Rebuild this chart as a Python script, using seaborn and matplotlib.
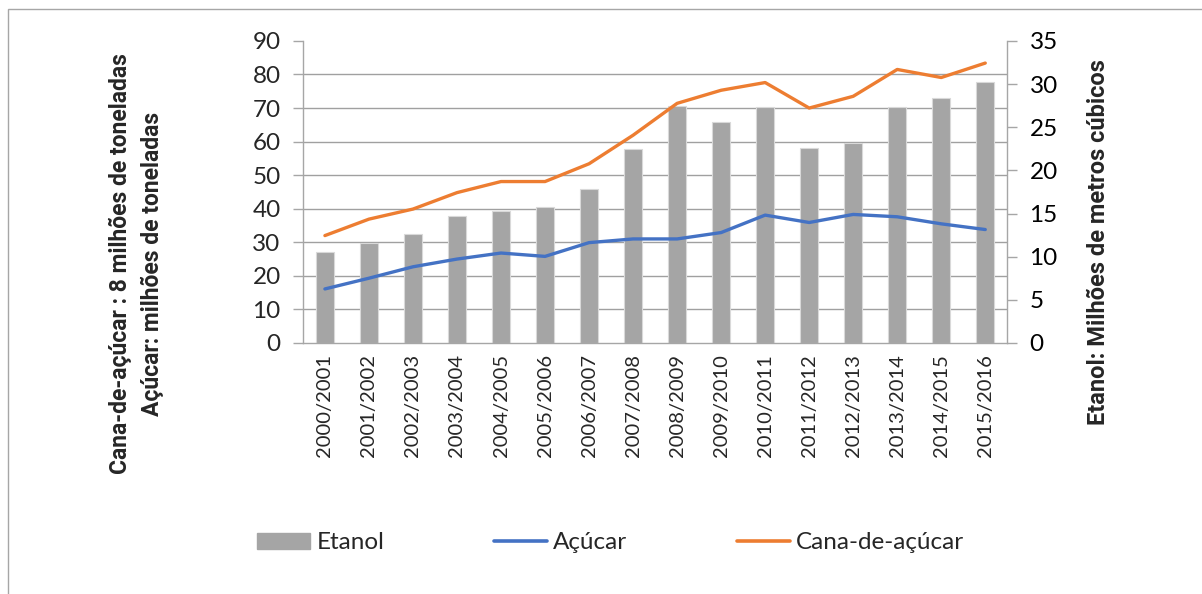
import numpy as np
import pandas as pd
import matplotlib
matplotlib.use('Agg')
import matplotlib.pyplot as plt
import matplotlib.patches as mpatches
from matplotlib.lines import Line2D
import seaborn as sns

sns.set_theme(style='white')
plt.rcParams['font.family'] = ['Lato', 'DejaVu Sans']

# data
safras = ['2000/2001', '2001/2002', '2002/2003', '2003/2004', '2004/2005', '2005/2006',
          '2006/2007', '2007/2008', '2008/2009', '2009/2010', '2010/2011', '2011/2012',
          '2012/2013', '2013/2014', '2014/2015', '2015/2016']
etanol = [10.5, 11.6, 12.6, 14.7, 15.3, 15.8, 17.8, 22.5, 27.5, 25.6, 27.3, 22.6,
          23.2, 27.4, 28.4, 30.2]
acucar = [16.1, 19.3, 22.7, 25.0, 26.8, 25.8, 29.9, 31.0, 31.0, 32.9, 38.1, 35.9,
          38.3, 37.6, 35.5, 33.8]
cana = [32.0, 36.9, 39.9, 44.8, 48.1, 48.1, 53.4, 61.9, 71.4, 75.3, 77.6, 70.0,
        73.5, 81.5, 79.1, 83.4]

df = pd.DataFrame({'safra': safras, 'Etanol': etanol, 'Açúcar': acucar,
                   'Cana-de-açúcar': cana})

c_bar = '#a5a5a5'
c_blue = '#4472c4'
c_orange = '#ed7d31'
c_axis = '#a6a6a6'
c_grid = '#a0a0a0'

fig = plt.figure(figsize=(12.02, 5.94), dpi=100)
ax = fig.add_axes([0.252, 0.4226, 0.586, 0.5085])

# bars on the secondary (right) scale
sns.barplot(data=df, x='safra', y='Etanol', color=c_bar, width=0.4,
            edgecolor='#d9d9d9', linewidth=0.8, ax=ax, zorder=2)
ax.set_ylim(0, 35)
ax.set_xlim(-0.5, len(safras) - 0.5)

# lines on the primary (left) scale
axl = ax.twinx()
sns.lineplot(data=df, x='safra', y='Açúcar', color=c_blue, linewidth=2.4,
             sort=False, ax=axl)
sns.lineplot(data=df, x='safra', y='Cana-de-açúcar', color=c_orange, linewidth=2.4,
             sort=False, ax=axl)
axl.set_ylim(0, 90)
axl.set_xlim(-0.5, len(safras) - 0.5)

# swap sides after twinx (twinx resets them)
ax.yaxis.tick_right()
axl.yaxis.tick_left()

ax.set_yticks(np.arange(0, 36, 5))
# gridlines of the left scale, behind the bars
ax.set_yticks(np.arange(0, 91, 10) * 35 / 90, minor=True)
ax.grid(True, which='minor', axis='y', color=c_grid, linewidth=1.0, zorder=0)
ax.grid(False, which='major')
ax.set_axisbelow(True)
ax.tick_params(axis='y', which='major', direction='out', length=7, width=1,
               color=c_axis, labelsize=17.5, pad=9, labelcolor='black',
               left=False, labelleft=False, right=True, labelright=True)
ax.tick_params(axis='y', which='minor', length=0)
ax.set_xticks(range(len(safras)))
ax.set_xticklabels(safras, rotation=90)
ax.set_xticks(np.arange(-0.5, len(safras), 1), minor=True)
ax.tick_params(axis='x', which='major', length=0, labelsize=14.5, pad=8)
ax.tick_params(axis='x', which='minor', direction='out', length=8, width=1,
               color=c_axis)
ax.set_xlabel('')
ax.set_ylabel('')
ax.spines['top'].set_visible(False)
for s in ['left', 'right', 'bottom']:
    ax.spines[s].set_color(c_axis)
    ax.spines[s].set_linewidth(1)

axl.set_yticks(np.arange(0, 91, 10))
axl.tick_params(axis='y', direction='out', length=7, width=1, color=c_axis,
                labelsize=17.5, pad=9, left=True, labelleft=True,
                right=False, labelright=False)
axl.set_ylabel('')
axl.set_xlabel('')
for s in ['top', 'left', 'right', 'bottom']:
    axl.spines[s].set_visible(False)

# axis titles
bold = ['Roboto', 'DejaVu Sans']
fig.text(0.100, 0.556, 'Cana-de-açúcar : 8 milhões de toneladas', rotation=90,
         ha='center', va='center', fontsize=16.5, fontweight='bold', family=bold)
fig.text(0.127, 0.556, 'Açúcar: milhões de toneladas', rotation=90,
         ha='center', va='center', fontsize=16.5, fontweight='bold', family=bold)
fig.text(0.914, 0.593, 'Etanol: Milhões de metros cúbicos', rotation=90,
         ha='center', va='center', fontsize=17, fontweight='bold', family=bold)

# legend
handles = [mpatches.Patch(color=c_bar),
           Line2D([], [], color=c_blue, linewidth=2.6),
           Line2D([], [], color=c_orange, linewidth=2.6)]
fig.legend(handles, ['Etanol', 'Açúcar', 'Cana-de-açúcar'], loc='center left',
           bbox_to_anchor=(0.2137, 0.086), ncol=3, frameon=False, fontsize=17.5,
           handlelength=2.2, handleheight=0.65, handletextpad=0.25,
           columnspacing=4.5, borderpad=0, borderaxespad=0)

# chart border
fig.patches.append(mpatches.Rectangle((8 / 1202, -0.1), 1.2, 0.1 + 1 - 9 / 594,
                                      transform=fig.transFigure, fill=False,
                                      edgecolor='#a6a6a6', linewidth=1))

fig.savefig('out.png', dpi=100)
